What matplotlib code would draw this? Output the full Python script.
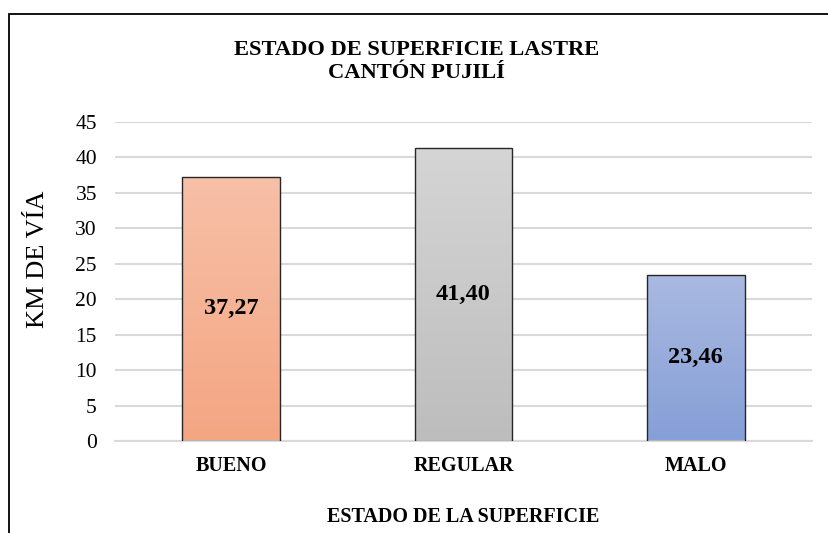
import matplotlib

matplotlib.use("Agg")

import matplotlib.pyplot as plt
import numpy as np
from matplotlib.colors import LinearSegmentedColormap
from matplotlib.patches import Rectangle

categories = ["BUENO", "REGULAR", "MALO"]
km_values = [37.27, 41.40, 23.46]
value_labels = ["37,27", "41,40", "23,46"]
y_ticks = [0, 5, 10, 15, 20, 25, 30, 35, 40, 45]

# top colour, bottom colour of each bar's gradient
bar_gradients = [
    ("#f7c0a8", "#f4a682"),
    ("#d5d5d5", "#bdbdbd"),
    ("#aab9e1", "#869fd7"),
]

GRID = "#d9d9d9"
EDGE = "#262626"

plt.rcParams["font.family"] = ["Liberation Serif", "DejaVu Serif"]

fig = plt.figure(figsize=(8.29, 5.33), dpi=100, facecolor="white")
ax = fig.add_axes([0.1387, 0.1726, 0.8408, 0.5985])

x = np.arange(len(categories))
bars = ax.bar(x, km_values, width=0.42, facecolor="none", edgecolor=EDGE,
              linewidth=1.0, zorder=3)

for bar, (top, bottom) in zip(bars, bar_gradients):
    cmap = LinearSegmentedColormap.from_list("g", [bottom, top])
    x0 = bar.get_x()
    x1 = x0 + bar.get_width()
    h = bar.get_height()
    grad = np.linspace(0, 1, 256).reshape(-1, 1)
    im = ax.imshow(grad, cmap=cmap, origin="lower", aspect="auto",
                   extent=(x0, x1, 0, h), zorder=2)
    im.set_clip_path(bar)

for xpos, val, lab in zip(x, km_values, value_labels):
    ax.text(xpos, val / 2, lab, ha="center", va="center", fontsize=17.5,
            fontweight="bold", color="black", zorder=4)

ax.set_xlim(-0.5, 2.5)
ax.set_ylim(0, 45)
ax.set_yticks(y_ticks)
ax.set_xticks(x)
ax.set_xticklabels(categories, fontsize=14.5, fontweight="bold")
ax.tick_params(axis="y", length=0, pad=13, labelsize=15.5)
ax.tick_params(axis="x", length=0, pad=11)
ax.grid(axis="y", color=GRID, linewidth=1.5, zorder=0)
ax.set_axisbelow(True)
for side in ("top", "right", "left"):
    ax.spines[side].set_visible(False)
ax.spines["bottom"].set_color(GRID)
ax.spines["bottom"].set_linewidth(1.5)

ax.set_ylabel("KM DE VÍA", fontsize=19, va="center")
ax.yaxis.set_label_coords(-0.110, 0.57)
ax.set_xlabel("ESTADO DE LA SUPERFICIE", fontsize=14.5, fontweight="bold",
              va="center")
ax.xaxis.set_label_coords(0.5, -0.238)

fig.text(0.502, 0.885, "ESTADO DE SUPERFICIE LASTRE\nCANTÓN PUJILÍ",
         ha="center", va="center", fontsize=16.2, fontweight="bold",
         linespacing=1.2)

# chart-area frame, cut off at the right and bottom edges
fig.patches.append(Rectangle((9 / 829, -0.05), 1.2, 1 - 14 / 533 + 0.05,
                             transform=fig.transFigure, fill=False,
                             edgecolor="black", linewidth=1.3))

fig.savefig("out.png", dpi=100, facecolor="white")
